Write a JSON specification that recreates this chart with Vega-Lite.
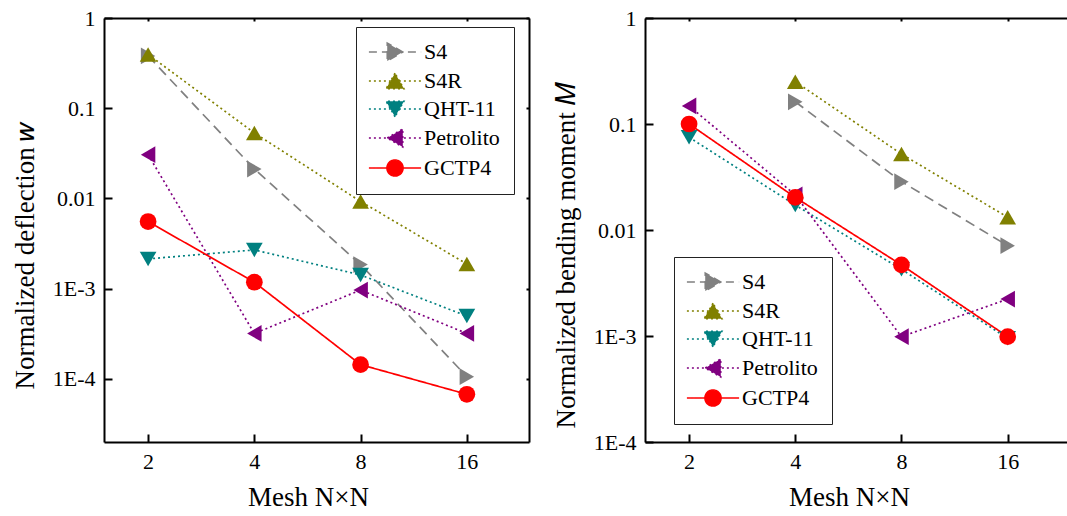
{
  "$schema": "https://vega.github.io/schema/vega-lite/v6.json",
  "background": "white",
  "padding": {"left": 11, "top": 7, "right": 0, "bottom": 0},
  "config": {
    "font": "Liberation Serif",
    "view": {"stroke": null},
    "axis": {
      "labelFont": "Liberation Serif",
      "labelFontSize": 22,
      "labelColor": "black",
      "titleFont": "Liberation Serif",
      "titleFontSize": 27,
      "titleFontWeight": "normal",
      "titleColor": "black",
      "domainColor": "black",
      "domainWidth": 2,
      "tickColor": "black",
      "tickWidth": 2,
      "grid": false,
      "labelOverlap": false,
      "labelFlush": false
    },
    "legend": {
      "labelFont": "Liberation Serif",
      "labelFontSize": 22,
      "labelColor": "black",
      "symbolSize": 324,
      "symbolStrokeWidth": 1.5,
      "padding": 14,
      "rowPadding": 6,
      "symbolOffset": 14,
      "labelOffset": 18,
      "strokeColor": "#222222",
      "fillColor": "white",
      "orient": "none"
    }
  },
  "datasets": {
    "deflection": [
      {"mesh": 2, "method": "S4", "value": 0.38},
      {"mesh": 4, "method": "S4", "value": 0.0212},
      {"mesh": 8, "method": "S4", "value": 0.00185},
      {"mesh": 16, "method": "S4", "value": 0.000106},
      {"mesh": 2, "method": "S4R", "value": 0.395},
      {"mesh": 4, "method": "S4R", "value": 0.0532},
      {"mesh": 8, "method": "S4R", "value": 0.00926},
      {"mesh": 16, "method": "S4R", "value": 0.00188},
      {"mesh": 2, "method": "QHT-11", "value": 0.00214},
      {"mesh": 4, "method": "QHT-11", "value": 0.00269},
      {"mesh": 8, "method": "QHT-11", "value": 0.00142},
      {"mesh": 16, "method": "QHT-11", "value": 0.000497},
      {"mesh": 2, "method": "Petrolito", "value": 0.0306},
      {"mesh": 4, "method": "Petrolito", "value": 0.000319},
      {"mesh": 8, "method": "Petrolito", "value": 0.000966},
      {"mesh": 16, "method": "Petrolito", "value": 0.000319},
      {"mesh": 2, "method": "GCTP4", "value": 0.00555},
      {"mesh": 4, "method": "GCTP4", "value": 0.00118},
      {"mesh": 8, "method": "GCTP4", "value": 0.000144},
      {"mesh": 16, "method": "GCTP4", "value": 0.0000676}
    ],
    "moment": [
      {"mesh": 4, "method": "S4", "value": 0.162},
      {"mesh": 8, "method": "S4", "value": 0.0286},
      {"mesh": 16, "method": "S4", "value": 0.00711},
      {"mesh": 4, "method": "S4R", "value": 0.251},
      {"mesh": 8, "method": "S4R", "value": 0.0521},
      {"mesh": 16, "method": "S4R", "value": 0.0132},
      {"mesh": 2, "method": "QHT-11", "value": 0.0749},
      {"mesh": 4, "method": "QHT-11", "value": 0.0172},
      {"mesh": 8, "method": "QHT-11", "value": 0.00426},
      {"mesh": 16, "method": "QHT-11", "value": 0.00095},
      {"mesh": 2, "method": "Petrolito", "value": 0.148},
      {"mesh": 4, "method": "Petrolito", "value": 0.0214},
      {"mesh": 8, "method": "Petrolito", "value": 0.000986},
      {"mesh": 16, "method": "Petrolito", "value": 0.00223},
      {"mesh": 2, "method": "GCTP4", "value": 0.1},
      {"mesh": 4, "method": "GCTP4", "value": 0.0203},
      {"mesh": 8, "method": "GCTP4", "value": 0.00468},
      {"mesh": 16, "method": "GCTP4", "value": 0.000986}
    ]
  },
  "bounds": "flush",
  "spacing": 116,
  "resolve": {
    "scale": {"color": "independent", "shape": "independent", "strokeDash": "independent", "size": "independent", "fill": "independent", "stroke": "independent"},
    "legend": {"color": "independent", "shape": "independent", "strokeDash": "independent", "fill": "independent", "stroke": "independent"}
  },
  "hconcat": [
    {
      "width": 425,
      "height": 424,
      "data": {"name": "deflection"},
      "layer": [
        {
          "mark": {"type": "line", "strokeWidth": 1.7},
          "encoding": {
            "x": {"field": "mesh", "type": "quantitative",
              "scale": {"type": "log", "domain": [1.5, 24], "nice": false},
              "axis": {"orient": "bottom", "values": [2, 4, 8, 16], "format": "d", "tickSize": -8, "labelPadding": 17,
                "title": "Mesh N×N", "titleX": 204, "titleY": 42}},
            "y": {"field": "value", "type": "quantitative",
              "scale": {"type": "log", "domain": [0.00002, 1], "nice": false},
              "axis": {"orient": "left", "values": [0.0001, 0.001, 0.01, 0.1, 1],
                "labelExpr": "datum.value >= 0.01 ? toString(datum.value) : '1E-' + round(-log(datum.value) / LN10)",
                "tickSize": -8, "labelPadding": 17,
                "title": "Normalized deflection 𝑤", "titleX": -65, "titleY": 237}},
            "color": {"field": "method", "type": "nominal",
              "scale": {"domain": ["S4", "S4R", "QHT-11", "Petrolito", "GCTP4"], "range": ["#808080", "#808000", "#008080", "#800080", "#ff0000"]},
              "legend": null},
            "strokeDash": {"field": "method", "type": "nominal",
              "scale": {"domain": ["S4", "S4R", "QHT-11", "Petrolito", "GCTP4"], "range": [[10, 6], [2, 3], [2, 3], [2, 3], [1, 0]]},
              "legend": null}
          }
        },
        {
          "mark": {"type": "point", "filled": true, "opacity": 1},
          "encoding": {
            "x": {"field": "mesh", "type": "quantitative",
              "scale": {"type": "log", "domain": [1.5, 24], "nice": false},
              "axis": {"orient": "top", "values": [2, 4, 8, 16], "labels": false, "tickSize": -3, "title": null}},
            "y": {"field": "value", "type": "quantitative",
              "scale": {"type": "log", "domain": [0.00002, 1], "nice": false},
              "axis": {"orient": "right", "values": [0.0001, 0.001, 0.01, 0.1, 1], "labels": false, "tickSize": -3, "title": null}},
            "color": {"field": "method", "type": "nominal",
              "scale": {"domain": ["S4", "S4R", "QHT-11", "Petrolito", "GCTP4"], "range": ["#808080", "#808000", "#008080", "#800080", "#ff0000"]},
              "legend": null},
            "shape": {"field": "method", "type": "nominal",
              "scale": {"domain": ["S4", "S4R", "QHT-11", "Petrolito", "GCTP4"], "range": ["triangle-right", "triangle-up", "triangle-down", "triangle-left", "circle"]},
              "legend": null},
            "size": {"field": "method", "type": "nominal",
              "scale": {"domain": ["S4", "S4R", "QHT-11", "Petrolito", "GCTP4"], "range": [280, 280, 280, 280, 210]},
              "legend": null}
          }
        },
        {
          "transform": [{"filter": "false"}],
          "mark": {"type": "point", "filled": true, "opacity": 1, "strokeWidth": 1.5, "size": 324},
          "encoding": {
            "fill": {"field": "method", "type": "nominal",
              "scale": {"domain": ["S4", "S4R", "QHT-11", "Petrolito", "GCTP4"], "range": ["#808080", "#808000", "#008080", "#800080", "#ff0000"]},
              "legend": {"title": null, "legendX": 252, "legendY": 9}},
            "stroke": {"field": "method", "type": "nominal",
              "scale": {"domain": ["S4", "S4R", "QHT-11", "Petrolito", "GCTP4"], "range": ["#808080", "#808000", "#008080", "#800080", "#ff0000"]},
              "legend": {"title": null, "legendX": 252, "legendY": 9}},
            "shape": {"field": "method", "type": "nominal",
              "scale": {"domain": ["S4", "S4R", "QHT-11", "Petrolito", "GCTP4"],
                "range": [
                  "M-2.9,0L2.9,0M0.866,0L-0.866,-1L-0.866,1Z",
                  "M-2.9,0L2.9,0M0,-0.866L-1,0.866L1,0.866Z",
                  "M-2.9,0L2.9,0M0,0.866L-1,-0.866L1,-0.866Z",
                  "M-2.9,0L2.9,0M-0.866,0L0.866,-1L0.866,1Z",
                  "M-2.9,0L2.9,0M-0.9,0A0.9,0.9,0,1,0,0.9,0A0.9,0.9,0,1,0,-0.9,0Z"
                ]},
              "legend": {"title": null, "legendX": 252, "legendY": 9}},
            "strokeDash": {"field": "method", "type": "nominal",
              "scale": {"domain": ["S4", "S4R", "QHT-11", "Petrolito", "GCTP4"], "range": [[8, 5], [2, 3], [2, 3], [2, 3], [1, 0]]},
              "legend": {"title": null, "legendX": 252, "legendY": 9}}
          }
        }
      ],
      "resolve": {
        "axis": {"x": "independent", "y": "independent"},
        "scale": {"shape": "independent", "strokeDash": "independent", "fill": "independent", "stroke": "independent"}
      }
    },
    {
      "width": 423,
      "height": 424,
      "data": {"name": "moment"},
      "layer": [
        {
          "mark": {"type": "line", "strokeWidth": 1.7},
          "encoding": {
            "x": {"field": "mesh", "type": "quantitative",
              "scale": {"type": "log", "domain": [1.5, 23.72], "nice": false},
              "axis": {"orient": "bottom", "values": [2, 4, 8, 16], "format": "d", "tickSize": -8, "labelPadding": 17,
                "title": "Mesh N×N", "titleX": 204, "titleY": 42}},
            "y": {"field": "value", "type": "quantitative",
              "scale": {"type": "log", "domain": [0.0001, 1], "nice": false},
              "axis": {"orient": "left", "values": [0.0001, 0.001, 0.01, 0.1, 1],
                "labelExpr": "datum.value >= 0.01 ? toString(datum.value) : '1E-' + round(-log(datum.value) / LN10)",
                "tickSize": -8, "labelPadding": 17,
                "title": "Normalized bending moment 𝑀", "titleX": -65, "titleY": 237}},
            "color": {"field": "method", "type": "nominal",
              "scale": {"domain": ["S4", "S4R", "QHT-11", "Petrolito", "GCTP4"], "range": ["#808080", "#808000", "#008080", "#800080", "#ff0000"]},
              "legend": null},
            "strokeDash": {"field": "method", "type": "nominal",
              "scale": {"domain": ["S4", "S4R", "QHT-11", "Petrolito", "GCTP4"], "range": [[10, 6], [2, 3], [2, 3], [2, 3], [1, 0]]},
              "legend": null}
          }
        },
        {
          "mark": {"type": "point", "filled": true, "opacity": 1},
          "encoding": {
            "x": {"field": "mesh", "type": "quantitative",
              "scale": {"type": "log", "domain": [1.5, 23.72], "nice": false},
              "axis": {"orient": "top", "values": [2, 4, 8, 16], "labels": false, "tickSize": -3, "title": null}},
            "y": {"field": "value", "type": "quantitative",
              "scale": {"type": "log", "domain": [0.0001, 1], "nice": false}},
            "color": {"field": "method", "type": "nominal",
              "scale": {"domain": ["S4", "S4R", "QHT-11", "Petrolito", "GCTP4"], "range": ["#808080", "#808000", "#008080", "#800080", "#ff0000"]},
              "legend": null},
            "shape": {"field": "method", "type": "nominal",
              "scale": {"domain": ["S4", "S4R", "QHT-11", "Petrolito", "GCTP4"], "range": ["triangle-right", "triangle-up", "triangle-down", "triangle-left", "circle"]},
              "legend": null},
            "size": {"field": "method", "type": "nominal",
              "scale": {"domain": ["S4", "S4R", "QHT-11", "Petrolito", "GCTP4"], "range": [280, 280, 280, 280, 210]},
              "legend": null}
          }
        },
        {
          "transform": [{"filter": "false"}],
          "mark": {"type": "point", "filled": true, "opacity": 1, "strokeWidth": 1.5, "size": 324},
          "encoding": {
            "fill": {"field": "method", "type": "nominal",
              "scale": {"domain": ["S4", "S4R", "QHT-11", "Petrolito", "GCTP4"], "range": ["#808080", "#808000", "#008080", "#800080", "#ff0000"]},
              "legend": {"title": null, "legendX": 29, "legendY": 239}},
            "stroke": {"field": "method", "type": "nominal",
              "scale": {"domain": ["S4", "S4R", "QHT-11", "Petrolito", "GCTP4"], "range": ["#808080", "#808000", "#008080", "#800080", "#ff0000"]},
              "legend": {"title": null, "legendX": 29, "legendY": 239}},
            "shape": {"field": "method", "type": "nominal",
              "scale": {"domain": ["S4", "S4R", "QHT-11", "Petrolito", "GCTP4"],
                "range": [
                  "M-2.9,0L2.9,0M0.866,0L-0.866,-1L-0.866,1Z",
                  "M-2.9,0L2.9,0M0,-0.866L-1,0.866L1,0.866Z",
                  "M-2.9,0L2.9,0M0,0.866L-1,-0.866L1,-0.866Z",
                  "M-2.9,0L2.9,0M-0.866,0L0.866,-1L0.866,1Z",
                  "M-2.9,0L2.9,0M-0.9,0A0.9,0.9,0,1,0,0.9,0A0.9,0.9,0,1,0,-0.9,0Z"
                ]},
              "legend": {"title": null, "legendX": 29, "legendY": 239}},
            "strokeDash": {"field": "method", "type": "nominal",
              "scale": {"domain": ["S4", "S4R", "QHT-11", "Petrolito", "GCTP4"], "range": [[8, 5], [2, 3], [2, 3], [2, 3], [1, 0]]},
              "legend": {"title": null, "legendX": 29, "legendY": 239}}
          }
        }
      ],
      "resolve": {
        "axis": {"x": "independent"},
        "scale": {"shape": "independent", "strokeDash": "independent", "fill": "independent", "stroke": "independent"}
      }
    }
  ]
}
